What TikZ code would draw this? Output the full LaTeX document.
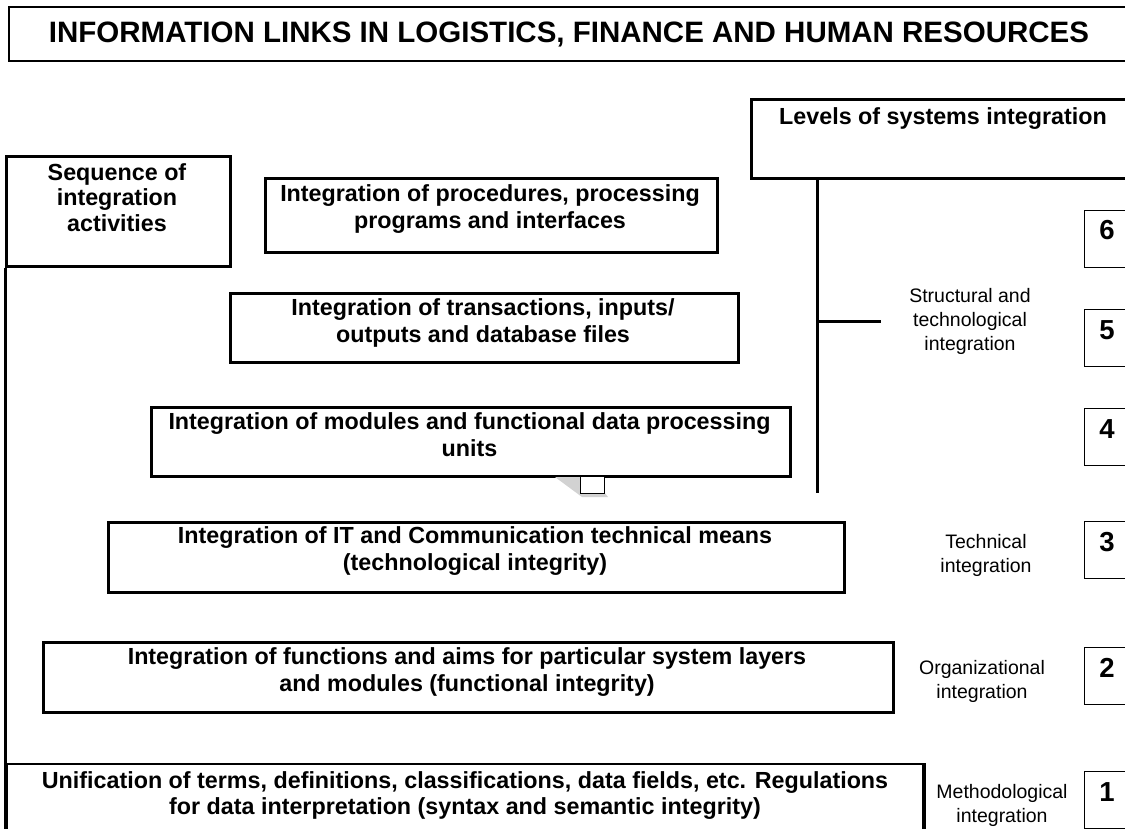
\documentclass[tikz,border=0pt]{standalone}
\usepackage{fontspec}
\setmainfont{Liberation Sans}
\begin{document}
\begin{tikzpicture}[x=1pt,y=-1pt,
  frame/.style={draw=black, line width=3pt, fill=white, inner sep=0pt, anchor=north west},
  thinframe/.style={frame, line width=2pt},
  levelbox/.style={draw=black, line width=1pt, fill=white, inner sep=0pt, anchor=north west,
                   minimum width=46pt, minimum height=57pt},
  boxtext/.style={inner sep=0pt, align=center, anchor=north,
                  font=\bfseries\fontsize{23.3}{27.5}\selectfont,
                  execute at begin node={\rule{0pt}{20pt}}},
  sidetext/.style={inner sep=0pt, align=center, anchor=north,
                   font=\fontsize{19.5}{24}\selectfont,
                   execute at begin node={\rule{0pt}{16pt}}},
  numtext/.style={inner sep=0pt, anchor=base, font=\bfseries\fontsize{27.5}{30}\selectfont},
  link/.style={draw=black, line width=3pt}
]
\useasboundingbox (0,0) rectangle (1125,829);
\fill[white] (0,0) rectangle (1125,829);
\clip (0,0) rectangle (1125,829);

% title
\node[thinframe, minimum width=1122pt, minimum height=54pt] (title) at (8,6) {};
\node[inner sep=0pt, anchor=base, font=\bfseries\fontsize{29.5}{34}\selectfont] (titletext) at (569,43)
  {INFORMATION LINKS IN LOGISTICS, FINANCE AND HUMAN RESOURCES};

% left column: sequence of activities
\node[frame, minimum width=224pt, minimum height=110pt] (seq) at (5,155) {};
\node[boxtext, font=\bfseries\fontsize{23.3}{25.5}\selectfont] (seqtext) at (117,163)
  {Sequence of\\integration\\activities};
\coordinate (railend) at (0,845);
\draw[link] (seq.south west) -- (seq.south west |- railend);

% integration activities
\node[frame, minimum width=452pt, minimum height=74pt] (proc) at (264,177) {};
\node[boxtext] (proctext) at (490,184) {Integration of procedures, processing\\programs and interfaces};

\node[frame, minimum width=508pt, minimum height=69pt] (trans) at (229,292) {};
\node[boxtext] (transtext) at (483,298) {Integration of transactions, inputs/\\outputs and database files};

\node[frame, minimum width=639pt, minimum height=69pt] (mod) at (150,406) {};
\node[boxtext] (modtext) at (469.5,412) {Integration of modules and functional data processing\\units};
\fill[gray!35] (555,477) -- (580,477) -- (580,492) -- (604,492) -- (608,497) -- (582,497) -- cycle;
\node[draw=black, line width=1pt, fill=white, inner sep=0pt, anchor=north west,
      minimum width=24pt, minimum height=17pt] (tab) at (580,475.5) {};

\node[frame, minimum width=736pt, minimum height=70pt] (tech) at (107,521) {};
\node[boxtext] (techtext) at (475,526) {Integration of IT and Communication technical means\\(technological integrity)};

\node[frame, minimum width=850pt, minimum height=70pt] (func) at (42,641) {};
\node[boxtext] (functext) at (467,647) {Integration of functions and aims for particular system layers\\and modules (functional integrity)};

\node[thinframe, minimum width=916pt, minimum height=100pt] (unif) at (6,763) {};
\draw[line width=3pt] (unif.north east) -- (unif.south east);
\node[boxtext, font=\bfseries\fontsize{23.3}{26}\selectfont] (uniftext) at (465,771)
  {Unification of terms, definitions, classifications, data fields, etc. Regulations\\for data interpretation (syntax and semantic integrity)};

% right column: levels of integration
\node[frame, minimum width=390pt, minimum height=79pt] (levels) at (750,98) {};
\node[inner sep=0pt, anchor=base, font=\bfseries\fontsize{23.3}{27.5}\selectfont] (levelstext) at (943,125)
  {Levels of systems integration};
\coordinate (trunkend) at (817,493);
\coordinate (branchend) at (881,321);
\draw[link] (levels.south -| trunkend) -- (trunkend);
\draw[link] (branchend -| trunkend) -- (branchend);

\node[sidetext] (structlab) at (970,288) {Structural and\\technological\\integration};
\node[sidetext] (techlab) at (986,534) {Technical\\integration};
\node[sidetext] (orglab) at (982,660) {Organizational\\integration};
\node[sidetext] (methlab) at (1002,784) {Methodological\\integration};

% level numbers
\node[levelbox] (lv6) at (1084,210) {};
\node[levelbox] (lv5) at (1084,309) {};
\node[levelbox] (lv4) at (1084,408) {};
\node[levelbox] (lv3) at (1084,521) {};
\node[levelbox] (lv2) at (1084,647) {};
\node[levelbox] (lv1) at (1084,771) {};
\node[numtext] (n6) at (1107,240) {6};
\node[numtext] (n5) at (1107,339) {5};
\node[numtext] (n4) at (1107,438) {4};
\node[numtext] (n3) at (1107,551) {3};
\node[numtext] (n2) at (1107,677) {2};
\node[numtext] (n1) at (1107,801) {1};
\end{tikzpicture}
\end{document}
